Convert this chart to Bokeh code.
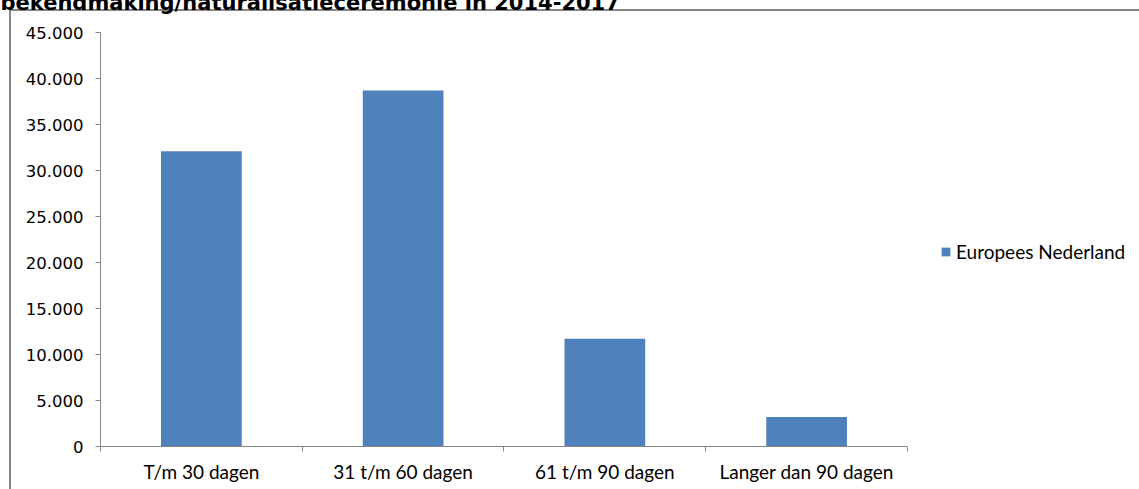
from bokeh.plotting import figure
from bokeh.models import (Range1d, LinearAxis, FixedTicker, BoxAnnotation,
                          Legend, LegendItem, ColumnDataSource)
from bokeh.embed import file_html
from bokeh.resources import INLINE

title_text = "bekendmaking/naturalisatieceremonie in 2014-2017"
categories = ["T/m 30 dagen", "31 t/m 60 dagen", "61 t/m 90 dagen", "Langer dan 90 dagen"]
values = [32100, 38700, 11700, 3200]
series_name = "Europees Nederland"
y_ticks = [0, 5000, 10000, 15000, 20000, 25000, 30000, 35000, 40000, 45000]
y_tick_labels = ["0", "5.000", "10.000", "15.000", "20.000", "25.000", "30.000", "35.000", "40.000", "45.000"]

GRAY = "#868686"
BLUE = "#4F81BD"
SHIFT = 30          # figure is pulled up so its title is cut off at the top like the reference
X_VIEW_END = 5.15   # visible x extent (frame continues to the right to host the legend)

n = len(categories)
centers = [i + 0.5 for i in range(n)]
source = ColumnDataSource(dict(x=centers, top=values, cat=categories))

line_bg = (f"linear-gradient({GRAY},{GRAY}) 9px {9 + SHIFT}px / 100% 2px no-repeat, "
           f"linear-gradient({GRAY},{GRAY}) 9px {9 + SHIFT}px / 2px 100% no-repeat")

p = figure(width=1139, height=489 + SHIFT, output_backend="svg", toolbar_location=None,
           x_range=Range1d(0, X_VIEW_END), y_range=Range1d(0, 45000),
           x_axis_type=None, y_axis_type=None,
           min_border_left=100, min_border_right=0, min_border_top=32 + SHIFT, min_border_bottom=43,
           margin=(-SHIFT, 0, 0, 0), styles={"background": line_bg})
p.outline_line_color = None
p.background_fill_color = "white"
p.border_fill_color = None

p.title.text = title_text
p.title.align = "left"
p.title.offset = -100
p.title.standoff = 35
p.title.text_font = "DejaVu Sans"
p.title.text_font_style = "bold"
p.title.text_font_size = "21px"
p.title.text_color = "#000000"

# y axis
yax = LinearAxis(ticker=FixedTicker(ticks=y_ticks))
yax.major_label_overrides = {t: l for t, l in zip(y_ticks, y_tick_labels)}
yax.axis_line_color = GRAY
yax.major_tick_line_color = GRAY
yax.major_tick_out = 5
yax.major_tick_in = 0
yax.minor_tick_line_color = None
yax.major_label_text_font = "DejaVu Sans"
yax.major_label_text_font_size = "16.5px"
yax.major_label_text_color = "#000000"
yax.major_label_standoff = 12
p.add_layout(yax, "left")

# boundary ticks on x
tax = LinearAxis(ticker=FixedTicker(ticks=list(range(n + 1))), bounds=(0, n))
tax.axis_line_color = GRAY
tax.major_tick_line_color = GRAY
tax.major_tick_out = 5
tax.major_tick_in = 0
tax.minor_tick_line_color = None
tax.major_label_text_font_size = "0px"
tax.major_label_standoff = 0
tax.major_label_overrides = {i: "" for i in range(n + 1)}
p.add_layout(tax, "below")

# category labels
cax = LinearAxis(ticker=FixedTicker(ticks=centers))
cax.major_label_overrides = {c: lab for c, lab in zip(centers, categories)}
cax.axis_line_color = None
cax.major_tick_line_color = None
cax.minor_tick_line_color = None
cax.major_tick_out = 0
cax.major_tick_in = 0
cax.major_label_text_font = "Lato"
cax.major_label_text_font_size = "19px"
cax.major_label_text_color = "#000000"
cax.major_label_standoff = 8
p.add_layout(cax, "below")

p.ygrid.ticker = FixedTicker(ticks=y_ticks)
p.ygrid.grid_line_color = GRAY
p.xgrid.grid_line_color = None

r = p.vbar(x="x", top="top", source=source, width=0.4, fill_color=BLUE, line_color=None)

# keep the gridlines within the category area (legend area stays blank)
p.add_layout(BoxAnnotation(left=n, fill_color="white", fill_alpha=1.0, line_alpha=0))

legend = Legend(items=[LegendItem(label=series_name, renderers=[r])], location=(840, 183))
legend.glyph_width = 11
legend.glyph_height = 11
legend.label_height = 20
legend.label_standoff = 5
legend.padding = 0
legend.margin = 0
legend.spacing = 0
legend.border_line_color = None
legend.background_fill_alpha = 0
legend.label_text_font = "Lato"
legend.label_text_font_size = "19px"
legend.label_text_color = "#000000"
p.add_layout(legend)

open("out.html", "w").write(file_html(p, INLINE))
